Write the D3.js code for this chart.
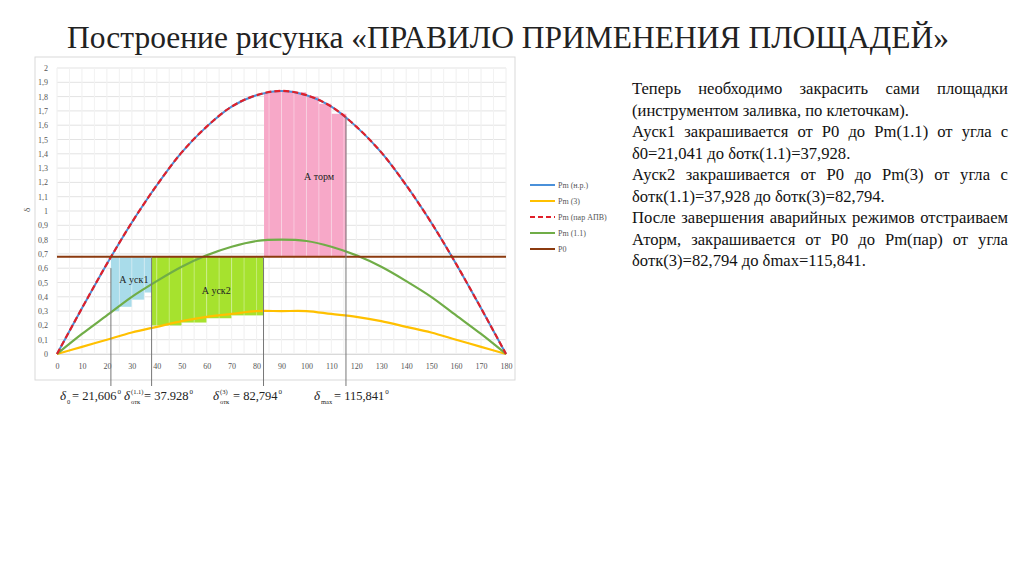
<!DOCTYPE html>
<html><head><meta charset="utf-8">
<script src="https://cdn.jsdelivr.net/npm/d3@7"></script>
<style>
body{margin:0;background:#fff;font-family:"Liberation Serif",serif}
#txt{position:absolute;left:632px;top:78px;width:376px;font-size:16.6px;line-height:21.5px;text-align:justify;color:#111}
#txt p{margin:0}
</style></head><body>
<svg id="c" width="1024" height="574"></svg>
<div id="txt">
<p>Теперь необходимо закрасить сами площадки (инструментом заливка, по клеточкам).</p>
<p>Ауск1 закрашивается от P0 до Pm(1.1) от угла с δ0=21,041 до δотк(1.1)=37,928.</p>
<p>Ауск2 закрашивается от P0 до Pm(3) от угла с δотк(1.1)=37,928 до δотк(3)=82,794.</p>
<p>После завершения аварийных режимов отстраиваем Аторм, закрашивается от P0 до Pm(пар) от угла δотк(3)=82,794 до δmax=115,841.</p>
</div>
<script>
var angles = [0,10,20,30,40,50,60,70,80,90,100,110,120,130,140,150,160,170,180];
var pmNormal = [0,0.32,0.63,0.92,1.18,1.41,1.59,1.73,1.81,1.84,1.81,1.73,1.59,1.41,1.18,0.92,0.63,0.32,0];
var pmApv = pmNormal.slice();
var pm3 = [0,0.05,0.10,0.15,0.19,0.23,0.26,0.28,0.30,0.30,0.30,0.28,0.26,0.23,0.19,0.15,0.10,0.05,0];
var pm11 = [0,0.14,0.27,0.40,0.51,0.61,0.69,0.75,0.79,0.80,0.79,0.75,0.69,0.61,0.51,0.40,0.27,0.14,0];
var p0 = 0.68;
var xTicks = d3.range(0,181,10);
var yTicks = d3.range(0,2.01,0.1);
var markers = [21.606,37.928,82.794,115.841];
// filled cells: [x from, x to, y from, y to]
var fillBlue = [[21.6,25,0.30,0.68],[25,30,0.33,0.68],[30,35,0.38,0.68],[35,38,0.43,0.68]];
var fillGreen = [[38,40,0.20,0.68],[40,50,0.20,0.68],[50,60,0.22,0.68],[60,70,0.25,0.68],[70,83,0.27,0.68]];
var fillPink = [[83,85,0.68,1.82],[85,90,0.68,1.84],[90,95,0.68,1.84],[95,100,0.68,1.83],[100,105,0.68,1.80],[105,110,0.68,1.75],[110,116,0.68,1.68]];

var svg = d3.select("#c");
svg.append("text").attr("x",508).attr("y",48).attr("text-anchor","middle")
  .attr("font-size",31.5).attr("fill","#222").text("Построение рисунка «ПРАВИЛО ПРИМЕНЕНИЯ ПЛОЩАДЕЙ»");
svg.append("rect").attr("x",35).attr("y",57).attr("width",480).attr("height",323)
  .attr("fill","#fff").attr("stroke","#d9d9d9");

var x = d3.scaleLinear().domain([0,180]).range([57,506]);
var y = d3.scaleLinear().domain([0,2]).range([354,68]);
var g = svg.append("g");
yTicks.forEach(function(t){
  g.append("line").attr("x1",x(0)).attr("x2",x(180)).attr("y1",y(t)).attr("y2",y(t)).attr("stroke","#e3e3e3");
});
d3.range(0,181,5).forEach(function(t){
  g.append("line").attr("x1",x(t)).attr("x2",x(t)).attr("y1",y(0)).attr("y2",y(2)).attr("stroke","#ececec");
});
function cells(arr,col){
  arr.forEach(function(c){
    g.append("rect").attr("x",x(c[0])).attr("y",y(c[3])).attr("width",x(c[1])-x(c[0]))
      .attr("height",y(c[2])-y(c[3])).attr("fill",col);
  });
}
cells(fillBlue,"#a9dcea");
cells(fillGreen,"#a6e22e");
cells(fillPink,"#f7a8c8");
d3.range(0,181,5).forEach(function(t){
  g.append("line").attr("x1",x(t)).attr("x2",x(t)).attr("y1",y(0)).attr("y2",y(2)).attr("stroke","#fff").attr("stroke-opacity",0.35);
});
var ax = svg.append("g").attr("transform","translate(0,"+y(0)+")")
  .call(d3.axisBottom(x).tickValues(xTicks).tickSize(0).tickPadding(9));
ax.select(".domain").attr("stroke","#d9d9d9");
ax.selectAll("text").attr("font-size",8).attr("fill","#555").attr("font-family","Liberation Serif");
var ay = svg.append("g").attr("transform","translate("+x(0)+",0)")
  .call(d3.axisLeft(y).tickValues(yTicks).tickSize(0).tickPadding(9).tickFormat(function(d){return d3.format(".1~f")(d).replace(".",",");}));
ay.select(".domain").remove();
ay.selectAll("text").attr("font-size",8).attr("fill","#555").attr("font-family","Liberation Serif");
svg.append("text").attr("transform","translate(30,212) rotate(-90)").attr("font-size",9).attr("fill","#555").text("δ");

var line = d3.line().x(function(d){return x(d[0]);}).y(function(d){return y(d[1]);}).curve(d3.curveCatmullRom);
function zip(v){return angles.map(function(a,i){return [a,v[i]];});}
svg.append("path").attr("d",line(zip(pmNormal))).attr("fill","none").attr("stroke","#4a90d9").attr("stroke-width",2);
svg.append("path").attr("d",line(zip(pm3))).attr("fill","none").attr("stroke","#ffc000").attr("stroke-width",2.2);
svg.append("path").attr("d",line(zip(pm11))).attr("fill","none").attr("stroke","#70ad47").attr("stroke-width",2.2);
svg.append("path").attr("d",line(zip(pmApv))).attr("fill","none").attr("stroke","#e0202a").attr("stroke-width",2.2).attr("stroke-dasharray","6,3");
svg.append("line").attr("x1",x(0)).attr("x2",x(180)).attr("y1",y(p0)).attr("y2",y(p0)).attr("stroke","#8b3a0f").attr("stroke-width",2);

var mTop = [0.60,0.68,0.68,1.66];
markers.forEach(function(m,i){
  svg.append("line").attr("x1",x(m)).attr("x2",x(m)).attr("y1",y(mTop[i])).attr("y2",386).attr("stroke","#777").attr("stroke-width",1);
});
[["А уск1",25,0.5],["А уск2",58,0.42],["А торм",99,1.22]].forEach(function(l){
  svg.append("text").attr("x",x(l[1])).attr("y",y(l[2])).attr("font-size",10).attr("fill","#222").text(l[0]);
});

var leg = [["Pm (н.р.)","#4a90d9",null],["Pm (3)","#ffc000",null],["Pm (пар АПВ)","#e0202a","5,3"],["Pm (1.1)","#70ad47",null],["P0","#8b3a0f",null]];
leg.forEach(function(l,i){
  var yy = 185+i*16;
  svg.append("line").attr("x1",530).attr("x2",555).attr("y1",yy).attr("y2",yy).attr("stroke",l[1]).attr("stroke-width",2).attr("stroke-dasharray",l[2]);
  svg.append("text").attr("x",558).attr("y",yy+3).attr("font-size",8).attr("fill","#555").text(l[0]);
});

// marker labels: [x, subscript, superscript, value]
var labs = [[60,"0","","= 21,606"],[124,"отк","(1.1)","= 37.928"],[213,"отк","(3)","= 82,794"],[314,"max","","= 115,841"]];
labs.forEach(function(l){
  var t = svg.append("g").attr("transform","translate("+l[0]+",400)").attr("fill","#222");
  t.append("text").attr("font-size",13).attr("font-style","italic").text("δ");
  t.append("text").attr("x",7).attr("y",4).attr("font-size",6.5).text(l[1]);
  if(l[2]) t.append("text").attr("x",7).attr("y",-6).attr("font-size",6.5).text(l[2]);
  var w = l[1].length>1 ? 20 : 12;
  var v = t.append("text").attr("x",w).attr("font-size",12.5).text(l[3]);
  t.append("text").attr("x",w+v.node().getComputedTextLength()+1).attr("y",-6).attr("font-size",7).text("0");
});
</script></body></html>
